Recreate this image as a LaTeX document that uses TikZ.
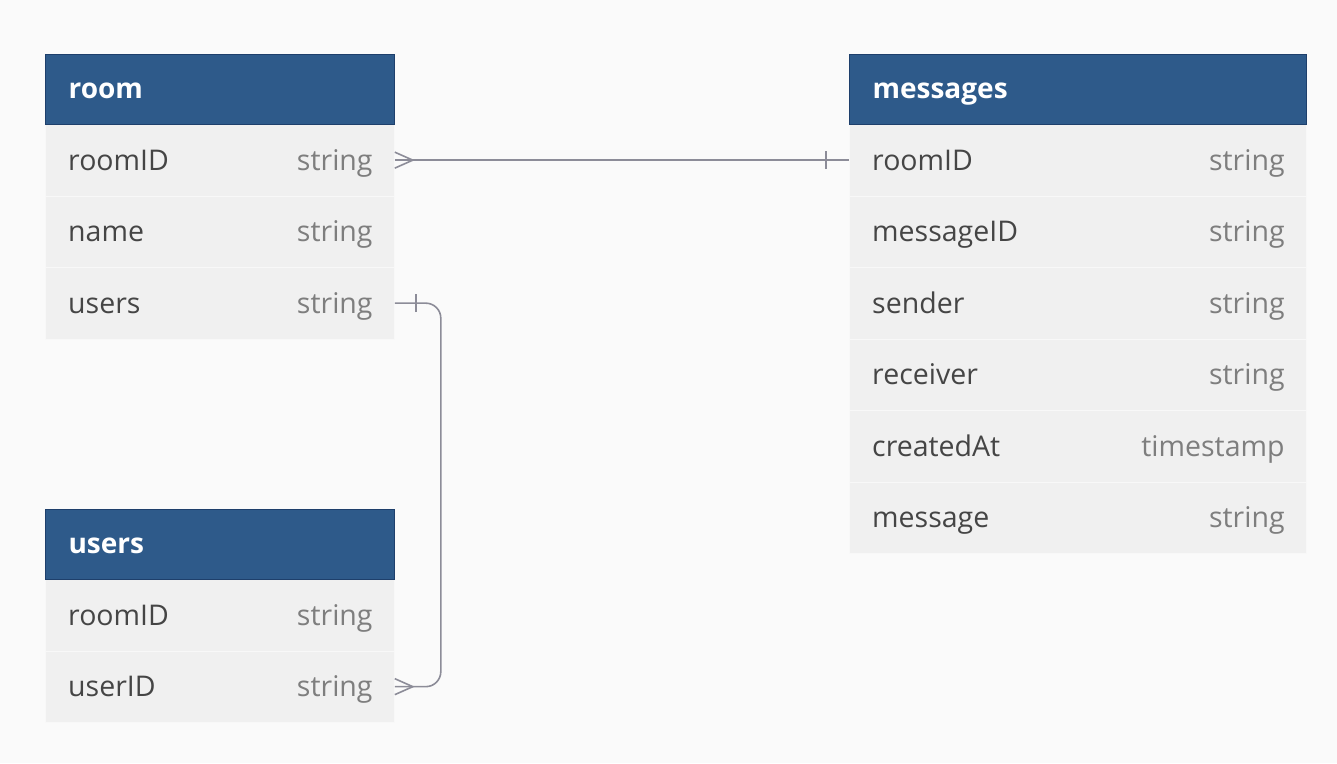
\documentclass[tikz,border=0pt]{standalone}
\usepackage{fontspec}
\setmainfont{Open Sans}
\definecolor{bgcol}{HTML}{FAFAFA}
\definecolor{headcol}{HTML}{2E5A8A}
\definecolor{headline}{HTML}{1E3F6B}
\definecolor{rowcol}{HTML}{F0F0F0}
\definecolor{namecol}{HTML}{454545}
\definecolor{typecol}{HTML}{7E7E7E}
\definecolor{relcol}{HTML}{8C8C98}
\begin{document}
\begin{tikzpicture}[
    x=1pt, y=-1pt,
    header/.style={rectangle, draw=headline, line width=1.2pt, fill=headcol, text=white, anchor=north west,
        minimum width=349pt, minimum height=70pt, inner xsep=23pt, align=left, text width=303pt,
        text height=22pt, text depth=4pt, font=\fontsize{28}{32}\selectfont\bfseries},
    row/.style={rectangle, draw=white!55!rowcol, line width=0.8pt, fill=rowcol, anchor=north west,
        minimum width=#1, minimum height=71.5pt, inner sep=0pt},
    attr/.style={anchor=west, text=namecol, inner sep=0pt, text height=20pt, text depth=6pt,
        font=\fontsize{28.5}{32}\selectfont},
    type/.style={anchor=east, text=typecol, inner sep=0pt, text height=20pt, text depth=6pt,
        font=\fontsize{28.5}{32}\selectfont},
    rel/.style={draw=relcol, line width=1.6pt}
]
    % Background
    \fill[bgcol] (0,0) rectangle (1337,763);
    \useasboundingbox (0,0) rectangle (1337,763);

    % Table room
    \foreach \name/\type [count=\i] in {roomID/string, name/string, users/string} {
        \node[row=349pt] (room-\i) at (45,124+71.5*\i-71.5) {};
        \node[attr] at ([xshift=23pt, yshift=-3pt]room-\i.west) {\name};
        \node[type] at ([xshift=-22pt, yshift=-3pt]room-\i.east) {\type};
    }
    \node[header] (room) at (45,54) {room};

    % Table messages
    \foreach \name/\type [count=\i] in {roomID/string, messageID/string, sender/string,
        receiver/string, createdAt/timestamp, message/string} {
        \node[row=457pt] (msg-\i) at (849,124+71.5*\i-71.5) {};
        \node[attr] at ([xshift=23pt, yshift=-3pt]msg-\i.west) {\name};
        \node[type] at ([xshift=-22pt, yshift=-3pt]msg-\i.east) {\type};
    }
    \node[header, minimum width=457pt, text width=411pt] (messages) at (849,54) {messages};

    % Table users
    \foreach \name/\type [count=\i] in {roomID/string, userID/string} {
        \node[row=349pt] (users-\i) at (45,579+71.5*\i-71.5) {};
        \node[attr] at ([xshift=23pt, yshift=-3pt]users-\i.west) {\name};
        \node[type] at ([xshift=-22pt, yshift=-3pt]users-\i.east) {\type};
    }
    \node[header] (users) at (45,509) {users};

    % room.roomID >-- messages.roomID
    \draw[rel] (room-1.east) -- (msg-1.west);
    \draw[rel] ([yshift=-8pt]room-1.east) -- ([xshift=18pt]room-1.east) -- ([yshift=8pt]room-1.east);
    \draw[rel] ([xshift=-23pt, yshift=-9pt]msg-1.west) -- ([xshift=-23pt, yshift=9pt]msg-1.west);

    % room.users --< users.userID
    \draw[rel, rounded corners=15pt] (room-3.east) -- ++(46,0) |- (users-2.east);
    \draw[rel] ([xshift=21pt, yshift=-9pt]room-3.east) -- ([xshift=21pt, yshift=9pt]room-3.east);
    \draw[rel] ([yshift=-8pt]users-2.east) -- ([xshift=18pt]users-2.east) -- ([yshift=8pt]users-2.east);

\end{tikzpicture}
\end{document}
